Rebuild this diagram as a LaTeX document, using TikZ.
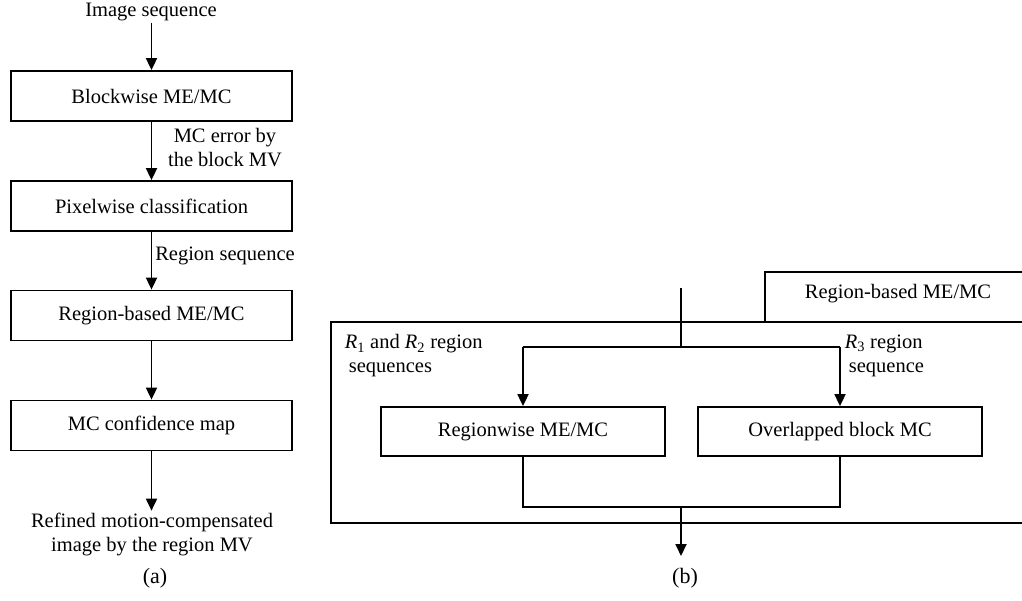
\documentclass[tikz,border=0pt]{standalone}
\usepackage{fontspec}
\setmainfont{Liberation Serif}
\usetikzlibrary{arrows.meta}
\begin{document}
\begin{tikzpicture}[x=1pt,y=-1pt,
  line width=1.8pt,
  txt/.style={font=\fontsize{20.5}{24}\selectfont, inner sep=1pt},
  blk/.style={draw, line width=1.8pt, minimum width=281pt, minimum height=50pt, inner sep=0pt, font=\fontsize{20.5}{24}\selectfont},
  rblk/.style={blk, minimum width=284pt, minimum height=49pt},
  arr/.style={-{Triangle[width=11pt,length=12pt]}, line width=1.8pt},
  ln/.style={line width=1.8pt}]
\useasboundingbox (0,0) rectangle (1022,600);
% ---------- (a) ----------
\node[txt] (imgseq) at (151,12) {Image sequence};
\node[blk] (b1) at (151.5,96) {Blockwise ME/MC};
\node[blk] (b2) at (151.5,206) {Pixelwise classification};
\node[blk] (b3) at (151.5,315.5) {Region-based ME/MC};
\node[blk] (b4) at (151.5,425.5) {MC confidence map};
\node[txt, align=center] (out) at (152,534) {Refined motion-compensated\\image by the region MV};
\node[txt, font=\fontsize{22}{26}\selectfont] (la) at (155,578) {(a)};
\node[txt, align=center] (l1) at (225,148) {MC error by\\the block MV};
\node[txt] (l2) at (225,256) {Region sequence};
\draw[arr] (imgseq.south -| b1.north) -- (b1.north);
\draw[arr] (b1) -- (b2);
\draw[arr] (b2) -- (b3);
\draw[arr] (b3) -- (b4);
\draw[arr] (b4.south) -- (out.north -| b4.south);
% ---------- (b) ----------
\draw[ln] (1030,272) -- (765,272) -- (765,322);
\draw[ln] (1030,322) -- (331,322) -- (331,523) -- (1030,523);
\node[txt] (rb) at (898,294) {Region-based ME/MC};
\node[rblk] (rw) at (523,431.5) {Regionwise ME/MC};
\node[rblk] (ob) at (840,431.5) {Overlapped block MC};
\coordinate (in) at (681,288);
\coordinate (j) at (681,347);
\coordinate (jl) at (523,347);
\coordinate (jr) at (840,347);
\coordinate (bl) at (523,507);
\coordinate (br) at (840,507);
\coordinate (bm) at (681,507);
\coordinate (outb) at (681,556);
\draw[ln] (in) -- (j);
\draw[ln] (jl) -- (jr);
\draw[arr] (jl) -- (rw.north);
\draw[arr] (jr) -- (ob.north);
\draw[ln] (rw.south) -- (bl) -- (br) -- (ob.south);
\draw[arr] (bm) -- (outb);
\node[txt, anchor=west, align=left] (r12) at (343,356) {\textit{R}\textsubscript{1} and \textit{R}\textsubscript{2} region\\\hspace*{4pt}sequences};
\node[txt, anchor=west, align=left] (r3) at (843,356) {\textit{R}\textsubscript{3} region\\\hspace*{4pt}sequence};
\node[txt, font=\fontsize{22}{26}\selectfont] (lb) at (685,578) {(b)};
\end{tikzpicture}
\end{document}
